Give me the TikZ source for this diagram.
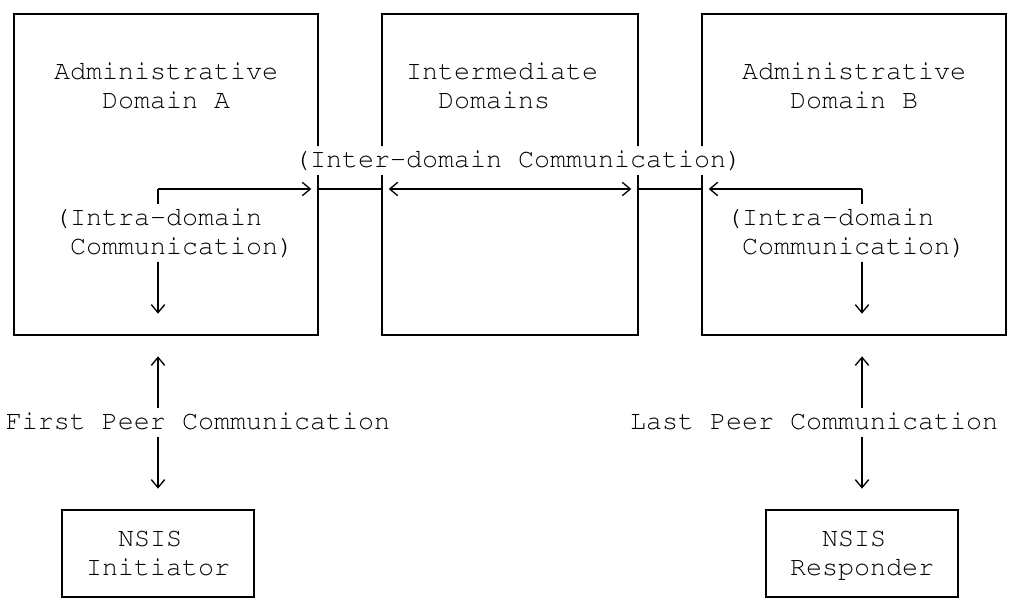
\documentclass[tikz,border=0pt]{standalone}
\usepackage[T1,TU]{fontenc}
\usetikzlibrary{arrows.meta,fit}
\newcommand{\asciifont}{\fontencoding{T1}\fontfamily{pcr}\fontseries{m}\fontshape{n}\fontsize{20}{22}\selectfont}
\tikzset{
  box/.style={draw, inner sep=0pt, outer sep=0pt, line width=1pt},
  link/.style={line width=1pt},
  arr/.style={link, -{Straight Barb[length=6pt,width=10pt]}},
  dblarr/.style={link, {Straight Barb[length=6pt,width=10pt]}-{Straight Barb[length=6pt,width=10pt]}},
  gapv/.style={shorten >=16pt},
  gaph/.style={shorten >=5pt},
  txt/.style={font=\asciifont, fill=white, inner sep=0pt, anchor=base, text height=16.2pt, text depth=5.6pt},
}
\begin{document}
\begin{tikzpicture}[x=0.75pt,y=0.75pt,yscale=-1,xscale=1]
\useasboundingbox (0,0) rectangle (1017,607);

%Domain boxes
\node [box, fit={(14,14) (318,335)}] (domA) {};
\node [box, fit={(382,14) (638,335)}] (domM) {};
\node [box, fit={(702,14) (1006,335)}] (domB) {};
%End point boxes
\node [box, fit={(62,510) (254,597)}] (initA) {};
\node [box, fit={(766,510) (958,597)}] (respB) {};

\coordinate (aIn) at (158,189);
\coordinate (bIn) at (862,189);

%Straight Lines
\draw [arr, gaph] (aIn) -- (domA.east |- aIn);
\draw [link] (domA.east |- aIn) -- (domM.west |- aIn);
\draw [dblarr, shorten <=5pt, shorten >=5pt] (domM.west |- aIn) -- (domM.east |- aIn);
\draw [link] (domM.east |- aIn) -- (domB.west |- bIn);
\draw [arr, gaph] (bIn) -- (domB.west |- bIn);
\draw [arr, gapv] (aIn) -- (aIn |- domA.south);
\draw [arr, gapv] (bIn) -- (bIn |- domB.south);
\draw [dblarr, shorten <=16pt, gapv] (initA.north |- domA.south) -- (initA.north);
\draw [dblarr, shorten <=16pt, gapv] (respB.north |- domB.south) -- (respB.north);

% Text Node
\node [txt] (admA) at (166,79.8) {Administrative};
\node [txt] (admAname) at (166,108.95) {Domain A};
% Text Node
\node [txt] (interm) at (502,79.8) {Intermediate};
\node [txt] (intermname) at (494,108.95) {Domains};
% Text Node
\node [txt] (admB) at (854,79.8) {Administrative};
\node [txt] (admBname) at (854,108.95) {Domain B};
% Text Node
\node [txt] (interLbl) at (518,167.25) {(Inter-domain Communication)};
% Text Node
\node [txt] (intraA) at (158,225.55) {(Intra-domain};
\node [txt] (intraAcom) at (182,254.7) {Communication)};
% Text Node
\node [txt] (intraB) at (830,225.55) {(Intra-domain};
\node [txt] (intraBcom) at (854,254.7) {Communication)};
% Text Node
\node [txt] (firstLbl) at (198,429.6) {First Peer Communication};
\node [txt] (lastLbl) at (814,429.6) {Last Peer Communication};
% Text Node
\node [txt] (initTop) at (150,546.2) {NSIS};
\node [txt] (initName) at (158,575.35) {Initiator};
\node [txt] (respTop) at (854,546.2) {NSIS};
\node [txt] (respName) at (862,575.35) {Responder};

\end{tikzpicture}
\end{document}
